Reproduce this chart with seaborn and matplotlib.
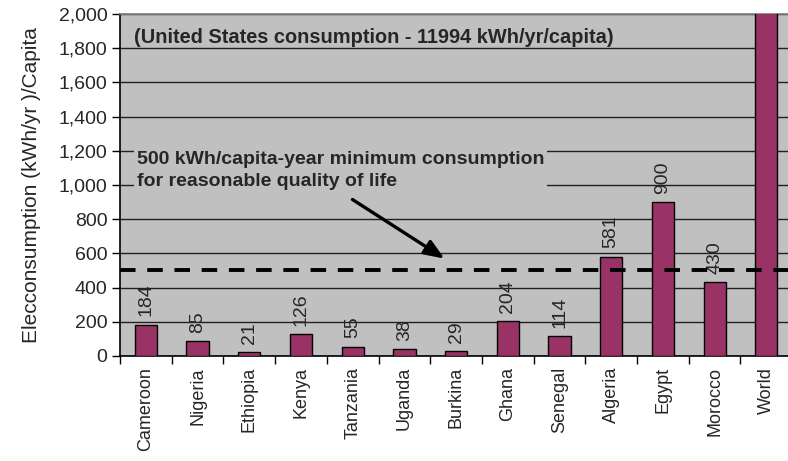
import matplotlib
matplotlib.use("Agg")
import matplotlib.pyplot as plt
import seaborn as sns
import pandas as pd

countries = ["Cameroon", "Nigeria", "Ethiopia", "Kenya", "Tanzania", "Uganda",
             "Burkina", "Ghana", "Senegal", "Algeria", "Egypt", "Morocco", "World"]
consumption = [184, 85, 21, 126, 55, 38, 29, 204, 114, 581, 900, 430, 2500]
y_ticks = [0, 200, 400, 600, 800, 1000, 1200, 1400, 1600, 1800, 2000]
minimum_level = 500

sns.set_theme(style="white")
plt.rcParams["font.family"] = ["Liberation Sans", "DejaVu Sans"]

df = pd.DataFrame({"country": countries, "kwh": consumption})

fig = plt.figure(figsize=(7.88, 4.61), dpi=100)
ax = fig.add_axes([0.1523, 0.2278, 0.853, 0.7418])
ax.set_facecolor("#C0C0C0")

sns.barplot(data=df, x="country", y="kwh", color="#993366", saturation=1,
            edgecolor="black", linewidth=1.0, width=0.43, ax=ax, zorder=3)

ax.set_ylim(0, 2000)
ax.set_xlim(-0.5, len(countries) - 0.5)
ax.set_yticks(y_ticks)
ax.set_yticklabels([f"{v:,}" for v in y_ticks], fontsize=14)
ax.yaxis.grid(True, color="#202020", linewidth=1.0, zorder=1)
ax.set_axisbelow(True)

ax.set_xticks(range(len(countries)))
ax.set_xticklabels(countries, rotation=90, fontsize=13)
ax.set_xticks([i + 0.5 for i in range(len(countries) - 1)] + [-0.5], minor=True)
ax.tick_params(axis="x", which="major", length=0, pad=8)
ax.tick_params(axis="x", which="minor", length=6, width=1, color="black", direction="out", bottom=True)
ax.tick_params(axis="y", length=6, width=1, color="black", direction="out", left=True, pad=3)

ax.set_xlabel("")
ax.set_ylabel("Elecconsumption (kWh/yr )/Capita", fontsize=15)
ax.yaxis.set_label_coords(-0.117, 0.5)

for s in ["left", "bottom"]:
    ax.spines[s].set_color("black")
    ax.spines[s].set_linewidth(1.2)
ax.spines["top"].set_color("#808080")
ax.spines["right"].set_visible(False)

# value labels above each bar
for i, v in enumerate(consumption):
    ax.annotate(f"{v}", (i, v), xytext=(0, 6), textcoords="offset points",
                rotation=90, ha="center", va="bottom", fontsize=14,
                annotation_clip=True, zorder=4)

# minimum consumption threshold
ax.axhline(minimum_level, color="black", linewidth=2.8, linestyle=(0, (4, 3)), zorder=5)

ax.text(-0.22, 1865, "(United States consumption - 11994 kWh/yr/capita)",
        fontsize=14.4, fontweight="bold", ha="left", va="center", zorder=6)

ax.text(-0.18, 1085, "500 kWh/capita-year minimum consumption\nfor reasonable quality of life",
        fontsize=14, fontweight="bold", ha="left", va="center", linespacing=1.45,
        bbox=dict(facecolor="#C0C0C0", edgecolor="none", pad=2), zorder=6)

ax.annotate("", xy=(5.82, 561), xytext=(3.95, 924),
            arrowprops=dict(arrowstyle="-|>,head_length=1.0,head_width=0.4",
                            color="black", linewidth=2.4), zorder=6)

fig.savefig("out.png", dpi=100)
